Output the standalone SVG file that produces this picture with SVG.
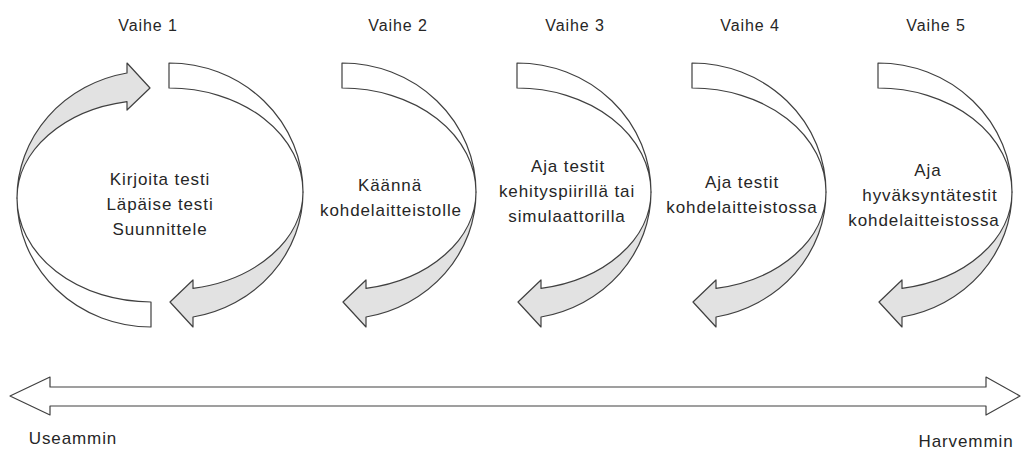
<svg xmlns="http://www.w3.org/2000/svg" xmlns:xlink="http://www.w3.org/1999/xlink" width="1022" height="449" viewBox="0 0 1022 449">
  <style>
    .back { fill: #ffffff; stroke: #404040; stroke-width: 1.2; stroke-linejoin: round; }
    .front { fill: #e2e2e2; stroke: #404040; stroke-width: 1.2; stroke-linejoin: round; }
    .lbl { font-family: "Liberation Sans", Arial, sans-serif; font-size: 17px; fill: #262626; text-anchor: middle; letter-spacing: 0.9px; }
    .stage { font-family: "Liberation Sans", Arial, sans-serif; font-size: 16px; fill: #262626; text-anchor: middle; letter-spacing: 0.9px; }
  </style>
  <defs>
    <!-- curved arrow: tail at top (local x = 0), bending right, head pointing left at the bottom -->
    <g id="curvedArrow">
      <path class="back" d="M0,63 A134,129 0 0 1 134,192 A134,104 0 0 0 0,88 Z"/>
      <path class="front" d="M134,192 A134,127 0 0 1 24,317 L24,327 L1,302 L24,280 L24,288.4 A134,98 0 0 0 134,192 Z"/>
    </g>
  </defs>

  <!-- stage titles -->
  <g id="stage-titles">
    <text class="stage" x="148" y="31">Vaihe 1</text>
    <text class="stage" x="398" y="31">Vaihe 2</text>
    <text class="stage" x="575" y="31">Vaihe 3</text>
    <text class="stage" x="750" y="31">Vaihe 4</text>
    <text class="stage" x="936" y="31">Vaihe 5</text>
  </g>

  <!-- connectors: the cycle arrows and the frequency axis -->
  <g id="connectors">
    <use xlink:href="#curvedArrow" transform="rotate(180 160 195) translate(169 0)"/>
    <use xlink:href="#curvedArrow" transform="translate(169 0)"/>
    <use xlink:href="#curvedArrow" transform="translate(342 0)"/>
    <use xlink:href="#curvedArrow" transform="translate(517 0)"/>
    <use xlink:href="#curvedArrow" transform="translate(692 0)"/>
    <use xlink:href="#curvedArrow" transform="translate(878 0)"/>
    <path class="back" d="M10,396 L50,377 L50,387 L986,387 L986,377 L1020,396 L986,415 L986,406 L50,406 L50,415 Z"/>
  </g>

  <g id="stage1">
    <text class="lbl" x="160" y="185">Kirjoita testi</text>
    <text class="lbl" x="160" y="210">Läpäise testi</text>
    <text class="lbl" x="160" y="235">Suunnittele</text>
  </g>
  <g id="stage2">
    <text class="lbl" x="390" y="191">Käännä</text>
    <text class="lbl" x="391" y="216">kohdelaitteistolle</text>
  </g>
  <g id="stage3">
    <text class="lbl" x="568" y="172">Aja testit</text>
    <text class="lbl" x="567" y="197">kehityspiirillä tai</text>
    <text class="lbl" x="567" y="222">simulaattorilla</text>
  </g>
  <g id="stage4">
    <text class="lbl" x="742" y="188">Aja testit</text>
    <text class="lbl" x="742" y="213">kohdelaitteistossa</text>
  </g>
  <g id="stage5">
    <text class="lbl" x="928" y="176">Aja</text>
    <text class="lbl" x="930" y="201">hyväksyntätestit</text>
    <text class="lbl" x="924" y="226">kohdelaitteistossa</text>
  </g>

  <g id="axis-labels">
    <text class="lbl" x="73" y="444">Useammin</text>
    <text class="lbl" x="966" y="447">Harvemmin</text>
  </g>
</svg>
